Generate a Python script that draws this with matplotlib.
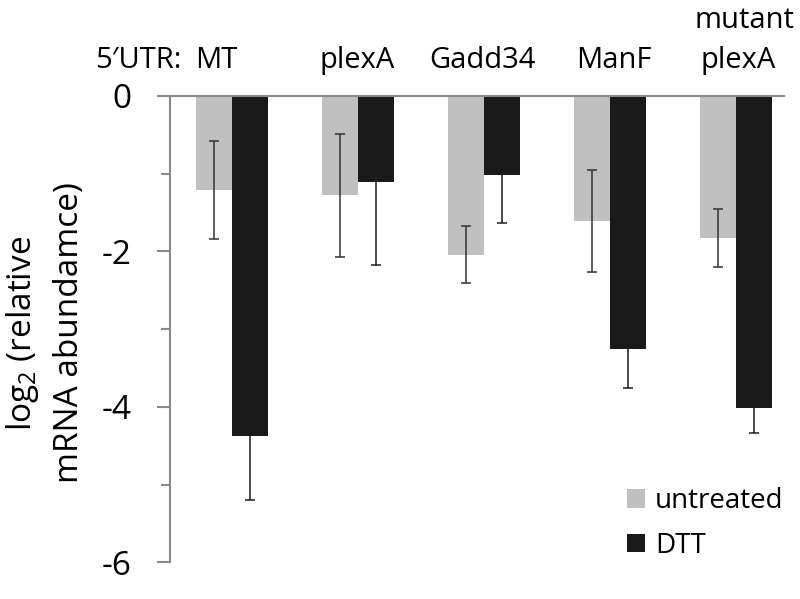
import matplotlib
matplotlib.use("Agg")
import matplotlib.pyplot as plt
import matplotlib.transforms as mtransforms
import numpy as np

plt.rcParams['font.family'] = ['Open Sans', 'DejaVu Sans']
plt.rcParams['mathtext.fontset'] = 'custom'
plt.rcParams['mathtext.rm'] = 'Open Sans'
plt.rcParams['mathtext.it'] = 'Open Sans'
plt.rcParams['axes.unicode_minus'] = False

# data
groups = ['MT', 'plexA', 'Gadd34', 'ManF', 'mutant\nplexA']
untreated = [-1.21, -1.28, -2.04, -1.61, -1.83]
untreated_err = [0.63, 0.79, 0.37, 0.66, 0.37]
dtt = [-4.38, -1.11, -1.02, -3.25, -4.01]
dtt_err = [0.82, 1.07, 0.61, 0.51, 0.33]
yticks = [0, -2, -4, -6]

grey = '#c0c0c0'
black = '#1a1a1a'
axis_col = '#8a8a8a'

fig = plt.figure(figsize=(8, 5.99), dpi=100)
ax = fig.add_axes([170/800, 1-562.3/599, (784-170)/800, (562.3-96)/599])

x = np.arange(len(groups))
w = 0.286
err_u = dict(ecolor='#333333', elinewidth=1.1, capsize=3.5, capthick=1.1)
err_d = dict(ecolor=black, elinewidth=1.1, capsize=3.5, capthick=1.1)
b1 = ax.bar(x - w/2, untreated, w, color=grey, yerr=untreated_err, error_kw=err_u, label='untreated')
b2 = ax.bar(x + w/2, dtt, w, color=black, yerr=dtt_err, error_kw=err_d, label='DTT')

ax.set_xlim(-0.495, 4.384)
ax.set_ylim(-6, 0)
ax.set_xticks([])
ax.set_yticks(yticks)
ax.set_yticklabels([str(t) for t in yticks], fontsize=24)
ax.set_yticks([-1, -3, -5], minor=True)
ax.tick_params(axis='y', which='major', length=9.5, width=1.5, color=axis_col, pad=18)
ax.tick_params(axis='y', which='minor', length=6.5, width=1.5, color=axis_col)

for s in ['right', 'bottom']:
    ax.spines[s].set_visible(False)
ax.spines['left'].set_color(axis_col)
ax.spines['left'].set_linewidth(1.5)
ax.spines['top'].set_color(axis_col)
ax.spines['top'].set_linewidth(1.5)

# category labels above the zero line
trans = mtransforms.blended_transform_factory(ax.transData, ax.transAxes)
y_lab = 1 + 28/466.3
y_lab2 = 1 + 68/466.3
names = [g.split('\n') for g in groups]
offsets = [-0.13, -0.01, -0.015, 0.03, 0.02]
for i, parts in enumerate(names):
    ax.text(i + offsets[i], y_lab, parts[-1], transform=trans, ha='center', va='baseline', fontsize=21)
    if len(parts) > 1:
        ax.text(i + offsets[i] + 0.05, y_lab2, parts[0], transform=trans, ha='center', va='baseline', fontsize=21)
ax.text(-0.408, y_lab, '5\u2032UTR:', transform=trans, ha='right', va='baseline', fontsize=21)

fig.text(45/800, 1-333/599, 'log$_2$ (relative\nmRNA abundamce)', rotation=90,
         ha='center', va='center', multialignment='center', fontsize=24, linespacing=1.45)

ax.legend(handles=[b1, b2], labels=['untreated', 'DTT'], loc='upper left',
          bbox_to_anchor=(627/800, 1-487/599), bbox_transform=fig.transFigure,
          frameon=False, fontsize=20, borderpad=0, borderaxespad=0,
          handlelength=0.65, handleheight=0.65, handletextpad=0.35, labelspacing=0.6)

fig.savefig('out.png', dpi=100)
